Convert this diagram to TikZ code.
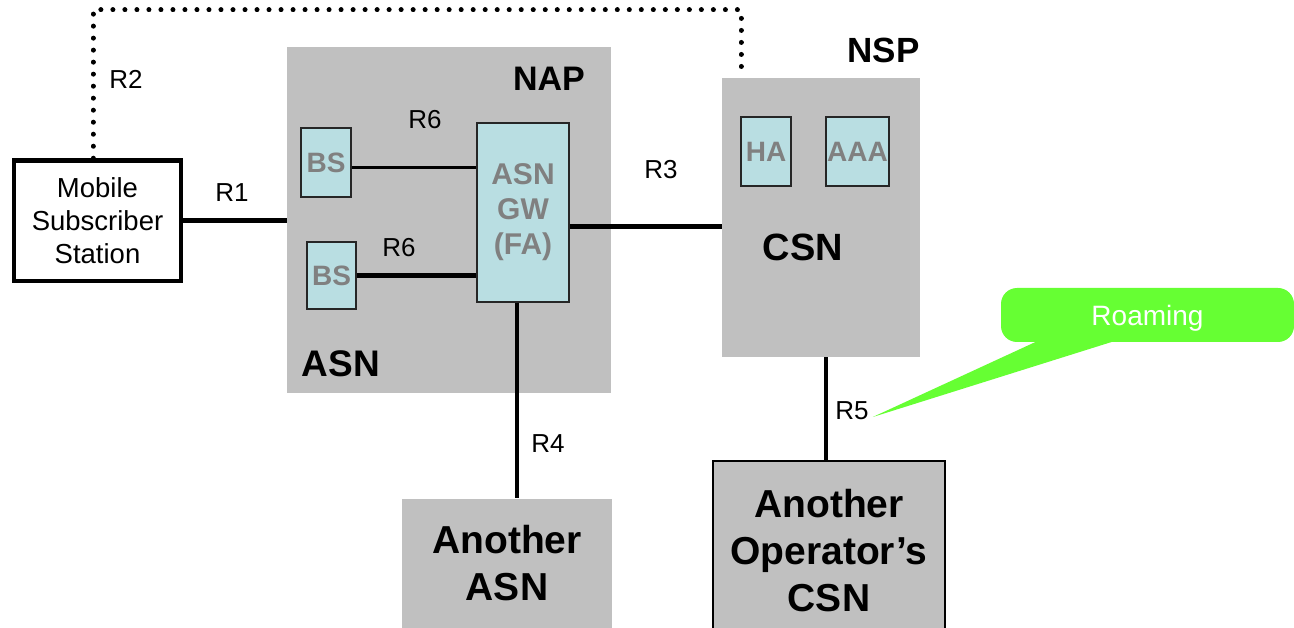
\documentclass[tikz,border=0pt]{standalone}
\usepackage{fontspec}
\setmainfont{Liberation Sans}
\usetikzlibrary{positioning,calc}
\definecolor{boxgrey}{RGB}{192,192,192}
\definecolor{boxblue}{RGB}{185,222,226}
\definecolor{roamgreen}{RGB}{102,255,51}
\definecolor{textgrey}{RGB}{128,128,128}

\begin{document}
\begin{tikzpicture}
    [
    x=1pt, y=-1pt,
    basic/.style={inner sep=0pt, text centered},
    area/.style={basic, fill=boxgrey},
    unit/.style={basic, draw=black!85, line width=1.3pt, fill=boxblue, text=textgrey, font=\bfseries\fontsize{28}{33}\selectfont},
    lbl/.style={basic, font=\fontsize{26}{31}\selectfont},
    heading/.style={basic, font=\bfseries\fontsize{#1}{#1}\selectfont},
    link/.style={line width=4.5pt},
    r2line/.style={line width=5pt, line cap=round, dash pattern=on 0.01pt off 12pt},
    ]
    \useasboundingbox (0,0) rectangle (1294,628);

    % Estacion movil
    \node [basic, draw, line width=4.5pt, minimum width=167, minimum height=120.5, align=center, font=\fontsize{27.5}{33}\selectfont] (mss) at (97.5,220.75) {Mobile\\Subscriber\\Station};
    % ASN dentro de NAP
    \node [area, minimum width=324, minimum height=346] (asn) at (449,220) {};
    \node [heading=34] (nap) at (549,78.5) {NAP};
    \node [heading=37] (asnlbl) at (341,363.5) {ASN};
    \node [unit, minimum width=50, minimum height=69] (bs1) at (326,162.5) {BS};
    \node [unit, minimum width=49, minimum height=67] (bs2) at (331.5,275.5) {BS};
    \node [unit, minimum width=92, minimum height=179, align=center, font=\bfseries\fontsize{30}{35}\selectfont] (gw) at (523,212.5) {ASN\\GW\\(FA)};
    % CSN dentro de NSP
    \node [area, minimum width=198, minimum height=279] (csn) at (821,217.5) {};
    \node [heading=35] (nsp) at (883.5,50.5) {NSP};
    \node [heading=38] (csnlbl) at (803,247.5) {CSN};
    \node [unit, minimum width=50, minimum height=69] (ha) at (766,151.5) {HA};
    \node [unit, minimum width=63, minimum height=69] (aaa) at (857.5,151.5) {AAA};
    % Otras redes
    \node [area, minimum width=210, minimum height=129, align=center, font=\bfseries\fontsize{39}{47}\selectfont] (otherasn) at (507,563) {Another\\ASN};
    \node [area, draw, line width=1.5pt, minimum width=232, minimum height=179, align=center, font=\bfseries\fontsize{39}{47}\selectfont] (othercsn) at (829,550.5) {Another\\Operator’s\\CSN};

    % Puntos de referencia
    \node [lbl] (r1) at (232,192.5) {R1};
    \node [lbl] (r2) at (126,79.5) {R2};
    \node [lbl] (r3) at (661,170) {R3};
    \node [lbl] (r4) at (548,444) {R4};
    \node [lbl] (r5) at (852,411) {R5};
    \node [lbl] (r6a) at (425,120) {R6};
    \node [lbl] (r6b) at (399,248) {R6};

    % Enlaces
    \draw [link] (mss.east) -- (mss.east -| asn.west);
    \coordinate (bs1r) at ([yshift=-5pt]bs1.east);
    \draw [link, line width=3pt] (bs1r) -- (bs1r -| gw.west);
    \draw [link] (bs2.east) -- (bs2.east -| gw.west);
    \coordinate (gwr) at ([yshift=-14pt]gw.east);
    \draw [link] (gwr) -- (gwr -| csn.west);
    \coordinate (gwb) at ([xshift=-6pt]gw.south);
    \draw [link] (gwb) -- (gwb |- otherasn.north);
    \coordinate (csnb) at ([xshift=5pt]csn.south);
    \draw [link] (csnb) -- (csnb |- othercsn.north);
    % R2 punteado
    \coordinate (r2a) at (93,10);
    \coordinate (r2b) at (741,10);
    \draw [r2line] (r2a |- mss.north) -- (r2a) -- (r2b) -- (r2b |- csn.north);

    % Globo de roaming
    \node [basic, fill=roamgreen, rounded corners=16pt, minimum width=293, minimum height=54, text=white, text depth=0pt, font=\fontsize{28}{34}\selectfont] (roam) at (1147.5,315) {Roaming};
    \coordinate (tip) at ([xshift=4pt, yshift=-6pt]r5.east);
    \fill [roamgreen] ([xshift=-106pt, yshift=3pt]roam.south) -- (tip) -- ([xshift=-27pt, yshift=3pt]roam.south) -- cycle;
\end{tikzpicture}
\end{document}
